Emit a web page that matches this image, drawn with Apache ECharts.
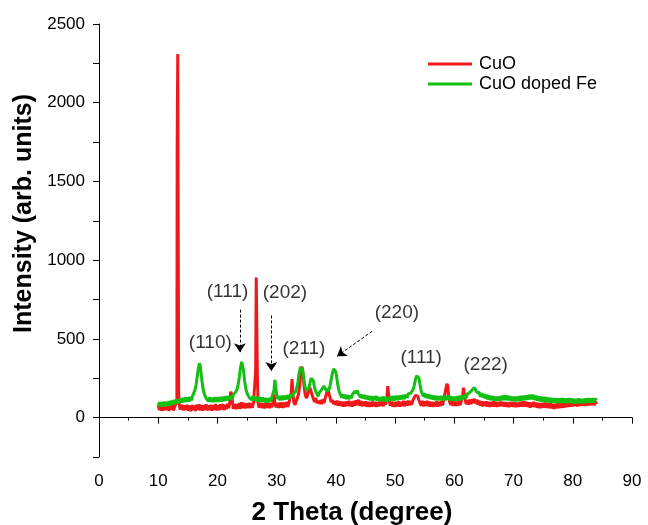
<!DOCTYPE html>
<html><head><meta charset="utf-8">
<script src="https://cdn.jsdelivr.net/npm/echarts@6/dist/echarts.min.js"></script>
<style>html,body{margin:0;padding:0;background:#fff}#c{width:648px;height:525px}</style>
</head><body><div id="c"></div>
<script>
// ---- data: CuO (red) ----
const cuoTheta = [10.0,10.2,10.4,10.6,10.8,11.0,11.2,11.4,11.6,11.8,12.0,12.2,12.4,12.6,12.8,13.0,13.15,13.2,13.25,13.3,13.38,13.45,13.55,13.7,
13.9,14.1,14.3,14.5,14.7,14.9,15.1,15.3,15.5,15.7,15.9,16.1,16.3,16.5,16.7,16.9,17.1,17.3,17.5,17.7,17.9,18.1,18.3,18.5,18.7,18.9,19.1,19.3,19.5,19.7,19.9,20.1,20.3,20.5,20.7,20.9,21.1,21.3,21.5,21.7,21.9,22.1,22.25,22.4,22.55,22.7,22.9,23.1,23.3,23.5,23.7,23.9,24.1,24.3,24.5,24.7,24.9,25.1,25.3,25.5,25.7,25.9,26.1,26.3,26.45,26.55,26.65,26.75,26.85,27.0,
27.2,27.4,27.6,27.8,28.0,28.2,28.4,28.6,28.8,29.0,29.2,29.4,29.55,29.7,29.9,30.1,30.3,30.5,30.7,30.9,31.1,31.3,31.5,31.7,31.9,32.1,32.3,32.45,32.6,32.75,32.9,33.1,33.3,33.5,33.7,33.9,34.1,34.25,34.4,34.6,34.8,35.0,35.2,35.4,35.6,35.8,36.0,36.2,36.4,36.6,36.8,37.0,37.2,37.4,37.6,37.8,38.0,38.2,38.4,38.6,38.8,39.0,39.2,39.4,39.6,39.8,
40.0,40.2,40.4,40.6,40.8,41.0,41.2,41.4,41.6,41.8,42.0,42.2,42.4,42.6,42.8,43.0,43.2,43.4,43.6,43.8,44.0,44.2,44.4,44.6,44.8,45.0,45.2,45.4,45.6,45.8,46.0,46.2,46.4,46.6,46.8,47.0,47.2,47.4,47.6,47.8,48.0,48.2,48.4,48.6,48.75,48.9,49.05,49.2,49.4,49.6,49.8,
50.0,50.2,50.4,50.6,50.8,51.0,51.2,51.4,51.6,51.8,52.0,52.2,52.4,52.6,52.8,53.0,53.2,53.4,53.6,53.8,54.0,54.2,54.4,54.6,54.8,55.0,55.2,55.4,55.6,55.8,56.0,56.2,56.4,56.6,56.8,57.0,57.2,57.4,57.6,57.8,58.0,58.2,58.4,58.6,58.75,58.9,59.05,59.2,59.4,59.6,59.8,
60.0,60.2,60.4,60.6,60.8,61.0,61.2,61.4,61.55,61.7,61.85,62.0,62.2,62.4,62.6,62.8,63.0,63.2,63.4,63.6,63.8,64.0,64.2,64.4,64.6,64.8,65.0,65.2,65.4,65.6,65.8,66.0,66.2,66.4,66.6,66.8,67.0,67.2,67.4,67.6,67.8,68.0,68.2,68.4,68.6,68.8,69.0,69.2,69.4,69.6,69.8,
70.0,70.2,70.4,70.6,70.8,71.0,71.2,71.4,71.6,71.8,72.0,72.2,72.4,72.6,72.8,73.0,73.2,73.4,73.6,73.8,74.0,74.2,74.4,74.6,74.8,75.0,75.2,75.4,75.6,75.8,76.0,76.2,76.4,76.6,76.8,77.0,77.2,77.4,77.6,77.8,78.0,78.2,78.4,78.6,78.8,79.0,79.2,79.4,79.6,79.8,
80.0,80.2,80.4,80.6,80.8,81.0,81.2,81.4,81.6,81.8,82.0,82.2,82.4,82.6,82.8,83.0,83.2,83.4,83.6,83.8,84.0];
const cuoIntensity = [78,48,72,44,70,46,80,50,74,42,76,52,80,46,74,62,95,1740,1745,2310,2305,160,85,52,
44,80,46,78,50,82,44,76,40,80,48,76,42,82,50,84,46,78,44,80,50,84,46,78,48,82,44,80,50,86,46,78,48,84,52,86,48,82,54,88,60,
100,165,150,90,56,
88,54,86,58,92,56,98,62,92,58,90,62,94,60,92,64,96,84,
300,890,885,250,100,64,
62,92,60,90,58,92,64,96,60,90,66,100,150,92,
66,94,62,96,64,98,62,96,66,100,68,98,100,160,245,150,96,82,104,112,150,210,290,325,300,
210,150,125,140,175,190,170,140,120,100,126,92,106,88,110,86,116,92,125,150,185,175,130,98,112,86,104,
80,108,76,104,74,102,70,100,72,104,74,106,72,102,70,106,76,110,80,114,76,106,72,102,74,104,70,100,68,98,70,102,72,100,68,98,72,104,74,102,72,106,84,120,
200,195,100,76,102,70,98,
68,100,72,104,70,100,74,106,72,104,76,108,78,106,82,110,118,140,150,138,112,100,76,106,72,104,74,106,72,102,70,100,68,98,72,104,70,100,74,106,78,108,120,
190,215,200,130,100,80,106,74,
104,74,102,76,106,80,108,140,190,185,110,
86,112,82,114,86,118,92,120,90,114,82,108,76,104,72,102,74,104,70,100,68,98,72,104,70,100,68,98,72,102,74,100,70,98,68,96,66,98,70,100,
68,98,66,96,68,100,70,102,72,104,70,100,68,98,64,96,68,100,66,96,64,94,60,92,62,94,64,96,62,92,60,90,58,88,56,88,58,90,60,92,62,94,64,96,66,98,68,100,70,102,
72,104,74,102,72,104,74,106,76,104,74,104,76,106,78,104,80,106,78,104,86];

// ---- data: CuO doped Fe (green) ----
const feTheta = [10.0,10.2,10.4,10.6,10.8,11.0,11.2,11.4,11.6,11.8,12.0,12.2,12.4,12.6,12.8,13.0,13.2,13.4,13.6,13.8,14.0,14.2,14.4,14.6,14.8,15.0,15.2,15.4,15.6,15.8,16.0,16.2,16.4,16.6,16.8,16.95,17.1,17.3,17.5,17.7,17.9,18.1,18.3,18.5,18.7,18.9,19.1,19.3,19.5,19.7,19.9,
20.1,20.3,20.5,20.7,20.9,21.1,21.3,21.5,21.7,21.9,22.1,22.3,22.5,22.7,22.9,23.1,23.3,23.5,23.7,23.9,24.1,24.25,24.4,24.6,24.8,25.0,25.2,25.4,25.6,25.8,26.0,26.2,26.4,26.6,26.8,27.0,27.2,27.4,27.6,27.8,28.0,28.2,28.4,28.6,28.8,29.0,29.2,29.4,29.55,29.7,29.85,
30.0,30.2,30.4,30.6,30.8,31.0,31.2,31.4,31.6,31.8,32.0,32.2,32.4,32.6,32.8,33.0,33.2,33.4,33.6,33.8,34.0,34.2,34.4,34.6,34.8,35.0,35.2,35.4,35.6,35.8,36.0,36.2,36.4,36.6,36.8,37.0,37.2,37.4,37.6,37.8,38.0,38.2,38.4,38.6,38.8,39.0,39.2,39.4,39.6,39.8,
40.0,40.2,40.4,40.6,40.8,41.0,41.2,41.4,41.6,41.8,42.0,42.2,42.4,42.6,42.8,43.0,43.2,43.4,43.6,43.8,44.0,44.2,44.4,44.6,44.8,45.0,45.2,45.4,45.6,45.8,46.0,46.2,46.4,46.6,46.8,47.0,47.2,47.4,47.6,47.8,48.0,48.2,48.4,48.6,48.8,49.0,49.2,49.4,49.6,49.8,
50.0,50.2,50.4,50.6,50.8,51.0,51.2,51.4,51.6,51.8,52.0,52.2,52.4,52.6,52.8,53.0,53.2,53.4,53.6,53.8,54.0,54.2,54.4,54.6,54.8,55.0,55.2,55.4,55.6,55.8,56.0,56.2,56.4,56.6,56.8,57.0,57.2,57.4,57.6,57.8,58.0,58.2,58.4,58.6,58.8,59.0,59.2,59.4,59.6,59.8,
60.0,60.2,60.4,60.6,60.8,61.0,61.2,61.4,61.6,61.8,62.0,62.2,62.4,62.6,62.8,63.0,63.2,63.4,63.6,63.8,64.0,64.2,64.4,64.6,64.8,65.0,65.2,65.4,65.6,65.8,66.0,66.2,66.4,66.6,66.8,67.0,67.2,67.4,67.6,67.8,68.0,68.2,68.4,68.6,68.8,69.0,69.2,69.4,69.6,69.8,
70.0,70.2,70.4,70.6,70.8,71.0,71.2,71.4,71.6,71.8,72.0,72.2,72.4,72.6,72.8,73.0,73.2,73.4,73.6,73.8,74.0,74.2,74.4,74.6,74.8,75.0,75.2,75.4,75.6,75.8,76.0,76.2,76.4,76.6,76.8,77.0,77.2,77.4,77.6,77.8,78.0,78.2,78.4,78.6,78.8,79.0,79.2,79.4,79.6,79.8,
80.0,80.2,80.4,80.6,80.8,81.0,81.2,81.4,81.6,81.8,82.0,82.2,82.4,82.6,82.8,83.0,83.2,83.4,83.6,83.8,84.0];
const feIntensity = [72,98,70,96,74,102,72,100,76,104,78,108,82,112,86,116,90,120,94,124,96,126,98,128,100,130,102,132,110,138,150,175,210,265,320,345,330,260,200,160,140,122,132,104,130,100,126,98,128,100,130,
100,130,102,132,104,134,106,136,108,138,112,140,120,146,150,165,180,210,260,320,355,350,300,230,180,155,140,126,136,112,138,108,134,104,132,102,130,100,128,98,126,96,124,98,126,100,130,132,175,240,235,
150,118,136,110,138,112,140,114,142,116,144,120,146,132,150,150,165,190,230,285,320,325,300,240,195,175,170,185,215,250,255,235,190,165,150,135,160,150,178,185,200,195,170,160,175,200,240,280,310,315,
290,240,190,160,145,126,148,122,146,118,142,116,140,124,148,140,168,155,172,150,160,128,146,122,144,118,140,114,138,110,136,108,134,112,138,106,132,104,130,108,134,104,132,102,130,106,134,110,138,108,
110,138,112,140,114,142,116,144,118,146,124,150,138,155,160,175,200,235,265,275,255,210,170,150,136,156,126,150,122,146,118,142,114,140,112,138,110,136,112,138,108,136,110,138,114,142,110,136,108,134,
106,134,108,136,110,140,112,142,118,146,124,150,138,160,158,176,178,190,178,160,150,160,132,156,128,150,122,146,116,142,112,138,110,136,108,134,106,134,108,136,110,140,112,142,112,140,110,136,108,134,
106,134,104,134,106,136,108,138,110,140,112,142,114,144,116,146,116,144,112,140,108,136,104,134,102,132,100,130,98,128,96,126,96,124,94,124,94,122,92,122,94,124,94,122,92,122,94,124,94,122,
90,120,90,120,92,122,92,120,90,120,92,122,94,124,96,122,98,124,96,122,110];

// ---- annotations ----
const peakLabels = ['(110)','(111)','(202)','(211)','(220)','(111)','(222)'];
const peakLabelTheta = [18.8,21.7,31.4,34.6,50.3,54.4,65.3];
const peakLabelIntensity = [478,802,795,435,668,382,334];
const arrowFrom = [[23.8,686],[29.1,649],[46.1,548]];
const arrowTo = [[23.8,416],[29.1,296],[40.2,390]];

const seriesNames = ['CuO','CuO doped Fe'];
const seriesColors = ['#f01818','#12bf12'];

const zip = (xs, ys) => xs.map((x, i) => [x, ys[i]]);

const chart = echarts.init(document.getElementById('c'), null, {renderer:'canvas'});
const txt = '#000';
const ff = 'Liberation Sans, Arial, sans-serif';
chart.setOption({
  animation:false,
  backgroundColor:'#fff',
  textStyle:{fontFamily:ff},
  grid:{left:99, right:16, top:24, bottom:68, containLabel:false, outerBoundsMode:'none'},
  legend:{
    data:seriesNames, orient:'vertical', left:423, top:50, itemGap:2,
    icon:'rect', itemWidth:44, itemHeight:3,
    textStyle:{fontSize:18, color:txt, fontFamily:ff, padding:[0,0,0,2]}
  },
  xAxis:{
    type:'value', min:0, max:90, interval:10,
    name:'2 Theta (degree)', nameLocation:'middle', nameGap:43,
    nameTextStyle:{fontSize:26, fontWeight:'bold', color:txt, fontFamily:ff, padding:[0,27,0,0]},
    axisLine:{lineStyle:{color:'#000', width:1}},
    axisTick:{inside:false, length:6, lineStyle:{color:'#000'}},
    minorTick:{show:true, splitNumber:2, length:3, lineStyle:{color:'#000'}},
    axisLabel:{fontSize:17, color:txt, margin:16},
    splitLine:{show:false}
  },
  yAxis:{
    type:'value', min:-250, max:2500, interval:250,
    name:'Intensity (arb. units)', nameLocation:'middle', nameGap:52,
    nameTextStyle:{fontSize:25, fontWeight:'bold', color:txt, fontFamily:ff, padding:[0,0,0,54]},
    axisLine:{show:true, lineStyle:{color:'#000', width:1}},
    axisTick:{show:true, inside:false, length:6, lineStyle:{color:'#000'}},
    axisLabel:{fontSize:17, color:txt, margin:14,
      formatter:function(v){ return (v % 500 === 0) ? String(v) : ''; }},
    splitLine:{show:false}
  },
  series:[
    {name:seriesNames[0], type:'line', data:zip(cuoTheta,cuoIntensity), showSymbol:false, symbol:'none',
     lineStyle:{color:seriesColors[0], width:3}, itemStyle:{color:seriesColors[0]}, z:2},
    {name:seriesNames[1], type:'line', data:zip(feTheta,feIntensity), showSymbol:false, symbol:'none',
     lineStyle:{color:seriesColors[1], width:3}, itemStyle:{color:seriesColors[1]}, z:3,
     markLine:{silent:true, symbol:['none','arrow'], symbolSize:9, label:{show:false},
       lineStyle:{color:'#000', type:[3,2], width:1},
       data: arrowFrom.map((f,i)=>[{coord:f},{coord:arrowTo[i]}])}},
    {name:'labels', type:'scatter', symbolSize:0, silent:true, z:5,
     data: peakLabels.map((n,i)=>({name:n, value:[peakLabelTheta[i], peakLabelIntensity[i]]})),
     label:{show:true, position:'inside', formatter:p=>p.name, fontSize:19, color:txt}}
  ]
});
</script></body></html>
